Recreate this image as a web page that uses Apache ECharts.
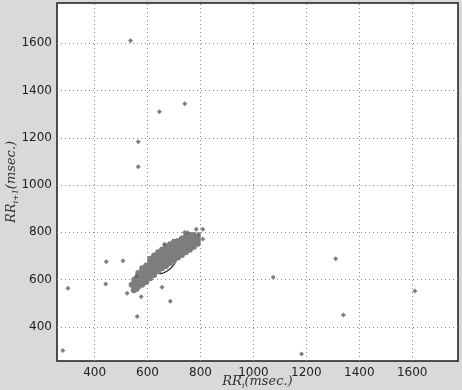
<!DOCTYPE html>
<html>
<head>
<meta charset="utf-8">
<script src="https://cdn.jsdelivr.net/npm/echarts@6/dist/echarts.min.js"></script>
<style>
html,body{margin:0;padding:0;background:#d9d9d9;}
#chart{width:462px;height:390px;}
</style>
</head>
<body>
<div id="chart"></div>
<script>
// Tick labels
var xTicks = [400, 600, 800, 1000, 1200, 1400, 1600];
var yTicks = [400, 600, 800, 1000, 1200, 1400, 1600];

// Main dense cluster of (RR_i, RR_i+1) pairs
var clusterPoints = [
  [548,555],[558,560],[540,578],
  [550,570],[550,585],[550,600],
  [565,570],[565,585],[565,600],[565,615],[565,628],
  [580,578],[580,592],[580,606],[580,620],[580,634],[580,648],
  [595,590],[595,604],[595,618],[595,632],[595,646],[595,660],
  [610,606],[610,620],[610,634],[610,648],[610,662],[610,676],[610,688],
  [625,620],[625,634],[625,648],[625,662],[625,676],[625,690],[625,702],
  [640,636],[640,650],[640,664],[640,678],[640,692],[640,706],[640,716],
  [655,648],[655,662],[655,676],[655,690],[655,704],[655,718],[655,728],
  [670,658],[670,672],[670,686],[670,700],[670,714],[670,728],[670,740],
  [685,670],[685,684],[685,698],[685,712],[685,726],[685,740],[685,750],
  [700,682],[700,696],[700,710],[700,724],[700,738],[700,752],[700,760],
  [715,694],[715,708],[715,722],[715,736],[715,750],[715,764],
  [730,704],[730,718],[730,732],[730,746],[730,760],[730,774],
  [745,716],[745,730],[745,744],[745,758],[745,772],[745,782],
  [760,726],[760,740],[760,754],[760,768],[760,782],[760,790],
  [775,738],[775,752],[775,766],[775,780],[775,790],
  [790,752],[790,766],[790,780]
];

// Isolated beats (outliers)
var outlierPoints = [
  [536,1610],[741,1344],[645,1310],[565,1183],[565,1077],
  [1311,688],[1075,610],[1610,552],[1340,451],[1182,286],
  [280,300],[299,564],[444,676],[442,582],[507,680],
  [523,543],[561,444],[576,528],[686,509],[655,568],
  [557,613],[664,750],[784,813],[809,813],[809,772],
  [794,792],[740,799],[750,799]
];

// Poincare ellipse: centre x, centre y, SD2 (major), SD1 (minor)
var ellipseParams = [[670, 662, 46, 22]];
// Dark arrow marker at the centre
var arrowPoints = [[655,680],[668,661],[702,695],[677,678]];

var chart = echarts.init(document.getElementById('chart'), null, {renderer:'canvas'});

var gridLines = xTicks.map(function(v){return {xAxis:v};})
  .concat(yTicks.map(function(v){return {yAxis:v};}));

var nameRich = {
  a:{fontFamily:'DejaVu Serif', fontStyle:'italic', fontSize:13, color:'#333', lineHeight:16},
  s:{fontFamily:'DejaVu Serif', fontStyle:'italic', fontSize:8, color:'#333', verticalAlign:'bottom', lineHeight:11}
};
function plain(v){ return String(v); }

var option = {
  backgroundColor:'#d9d9d9',
  animation:false,
  grid:{left:57, right:4, top:3, bottom:29, containLabel:false, outerBoundsMode:'none',
        show:true, backgroundColor:'#ffffff', borderColor:'#1a1a1a', borderWidth:1.5},
  xAxis:{
    type:'value', min:258, max:1773,
    splitLine:{show:false}, axisLine:{show:false}, axisTick:{show:false},
    axisLabel:{customValues:xTicks, formatter:plain, fontFamily:'DejaVu Sans', fontSize:12, color:'#222', margin:6},
    name:'{a|RR}{s|i}{a|(msec.)}', nameLocation:'middle', nameGap:13, nameMoveOverlap:false,
    nameTextStyle:{rich:nameRich}
  },
  yAxis:{
    type:'value', min:256, max:1770,
    splitLine:{show:false}, axisLine:{show:false}, axisTick:{show:false},
    axisLabel:{customValues:yTicks, formatter:plain, fontFamily:'DejaVu Sans', fontSize:12, color:'#222', margin:5},
    name:'{a|RR}{s|i+1}{a|(msec.)}', nameLocation:'middle', nameGap:37, nameMoveOverlap:false,
    nameTextStyle:{rich:nameRich}
  },
  series:[
    {
      type:'scatter', data:[], silent:true,
      markLine:{
        silent:true, symbol:['none','none'], label:{show:false},
        lineStyle:{type:[1,3], color:'#8a8a8a', width:1},
        data:gridLines, animation:false
      }
    },
    {
      type:'scatter', data:clusterPoints, symbol:'circle', symbolSize:6,
      itemStyle:{color:'#7d7d7d', opacity:1}, silent:true
    },
    {
      type:'scatter', data:outlierPoints, symbol:'diamond', symbolSize:5,
      itemStyle:{color:'#606060'}, silent:true
    },
    {
      type:'custom', data:ellipseParams, silent:true,
      renderItem:function(params, api){
        var cx=api.value(0), cy=api.value(1), a=api.value(2), b=api.value(3);
        var c=Math.SQRT1_2, pts=[];
        for(var k=0;k<=72;k++){
          var t=k/72*2*Math.PI;
          var u=a*Math.cos(t), w=b*Math.sin(t);
          pts.push(api.coord([cx+u*c-w*c, cy+u*c+w*c]));
        }
        return {type:'polyline', shape:{points:pts}, style:{stroke:'#262626', lineWidth:1.3, fill:null}};
      }
    },
    {
      type:'custom', data:[0], silent:true,
      renderItem:function(params, api){
        var pts=arrowPoints.map(function(p){return api.coord(p);});
        return {type:'polygon', shape:{points:pts}, style:{fill:'#1a1a1a', stroke:'#1a1a1a', lineWidth:1}};
      }
    }
  ]
};
chart.setOption(option);
</script>
</body>
</html>
